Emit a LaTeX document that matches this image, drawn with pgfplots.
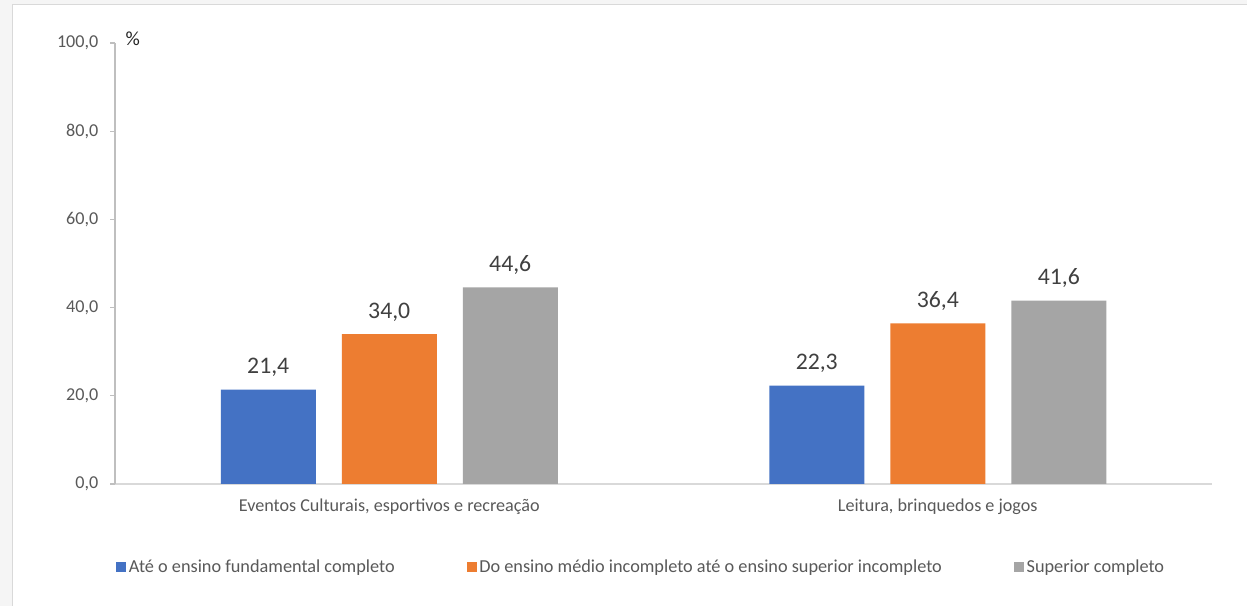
\documentclass[border=0pt]{standalone}
\usepackage{fontspec}
\setmainfont{Carlito}
\usepackage{pgfplots}
\pgfplotsset{compat=1.18}
\definecolor{cblue}{HTML}{4472C4}
\definecolor{corange}{HTML}{ED7D31}
\definecolor{cgray}{HTML}{A5A5A5}
\definecolor{txt}{HTML}{595959}
\definecolor{lbl}{HTML}{404040}
\definecolor{xline}{HTML}{D9D9D9}
\definecolor{yline}{HTML}{BFBFBF}
\definecolor{outside}{HTML}{F5F5F5}
\begin{document}
\begin{tikzpicture}
\fill[outside] (0,0) rectangle (935.25pt,454.5pt);
\filldraw[fill=white, draw=xline, line width=1.2pt] (9.4pt,-10pt) rectangle (950pt,451.1pt);
\begin{axis}[
  at={(86.25pt,91.5pt)}, anchor=south west,
  scale only axis, width=822.75pt, height=330.75pt,
  xmin=-0.5, xmax=1.5, ymin=0, ymax=100,
  ytick={0,20,...,100},
  xtick={0,1},
  xticklabels={{Eventos Culturais, esportivos e recreação},{Leitura, brinquedos e jogos}},
  axis x line*=bottom, axis y line*=left,
  x axis line style={draw=xline, line width=1pt, -},
  y axis line style={draw=yline, line width=0.8pt, -},
  xtick style={draw=none},
  ytick style={draw=yline, line width=0.8pt},
  tick align=outside, major tick length=3.5pt,
  /pgf/number format/assume math mode=true,
  /pgf/number format/use comma,
  /pgf/number format/fixed,
  /pgf/number format/fixed zerofill,
  /pgf/number format/precision=1,
  yticklabel style={font=\fontsize{13.6pt}{16pt}\selectfont, text=txt, xshift=-5.5pt},
  xticklabel style={font=\fontsize{13.6pt}{16pt}\selectfont, text=txt, yshift=-4pt},
  ybar=19.5pt, bar width=71.25pt,
  nodes near coords,
  every node near coord/.append style={font=\fontsize{17.8pt}{20pt}\selectfont, text=lbl, yshift=6pt},
  legend columns=3,
  legend style={draw=none, fill=none, at={(0.48,-0.188)}, anchor=center,
    font=\fontsize{13.7pt}{16pt}\selectfont, text=txt,
    /tikz/every even column/.append style={column sep=52pt}},
  legend image code/.code={\fill[#1] (0pt,-3.75pt) rectangle (7.5pt,3.75pt);},
]
\addplot[fill=cblue, draw=none] coordinates {(0,21.4) (1,22.3)};
\addplot[fill=corange, draw=none] coordinates {(0,34.0) (1,36.4)};
\addplot[fill=cgray, draw=none] coordinates {(0,44.6) (1,41.6)};
\legend{Até o ensino fundamental completo, Do ensino médio incompleto até o ensino superior incompleto, Superior completo}
\end{axis}
\node[anchor=base west, font=\fontsize{15pt}{18pt}\selectfont, text=black!85, inner sep=0pt] at (94pt,420pt) {\%};
\pgfresetboundingbox
\useasboundingbox (0,0) rectangle (935.25pt,454.5pt);
\end{tikzpicture}
\end{document}
